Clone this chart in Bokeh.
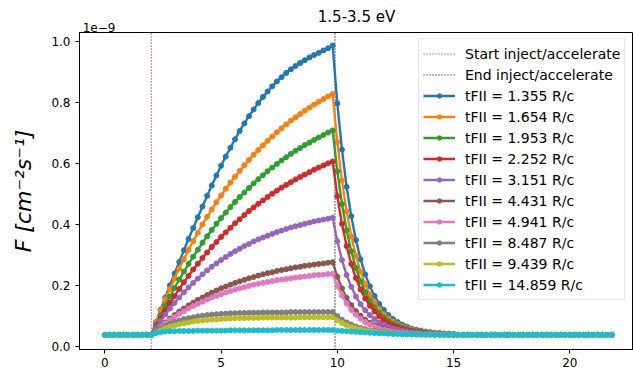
from bokeh.plotting import figure
from bokeh.models import (Range1d, FixedTicker, Legend, LegendItem, ColumnDataSource,
                          LinearAxis, CustomJSTickFormatter)
from bokeh.embed import file_html
from bokeh.resources import INLINE

# Flux in units of 1e-9 cm^-2 s^-1, sampled every 0.2 time units
dt = 0.2
inject_start = 2.0
inject_end = 9.9

# quiet level before injection (t = 0 .. 1.8) and after the decay (t = 15.2 .. 21.8)
pre = [0.037, 0.037, 0.037, 0.037, 0.037, 0.037, 0.037, 0.037, 0.037, 0.037]
post = [0.037, 0.037, 0.037, 0.037, 0.037, 0.037, 0.037, 0.037, 0.037, 0.037,
        0.037, 0.037, 0.037, 0.037, 0.037, 0.037, 0.037, 0.037, 0.037, 0.037,
        0.037, 0.037, 0.037, 0.037, 0.037, 0.037, 0.037, 0.037, 0.037, 0.037,
        0.037, 0.037, 0.037, 0.037]

# rise: t = 2.0 .. 9.8 (40 samples); decay: t = 10.0 .. 15.0 (26 samples)
rise_1355 = [0.037, 0.079, 0.120, 0.160, 0.200, 0.239, 0.277, 0.315, 0.352, 0.388,
             0.424, 0.459, 0.494, 0.528, 0.561, 0.593, 0.623, 0.652, 0.680, 0.707,
             0.732, 0.756, 0.778, 0.799, 0.819, 0.837, 0.854, 0.870, 0.884, 0.898,
             0.910, 0.921, 0.931, 0.940, 0.949, 0.957, 0.964, 0.972, 0.979, 0.988]
decay_1355 = [0.798, 0.646, 0.524, 0.427, 0.349, 0.286, 0.236, 0.197, 0.165, 0.139,
              0.119, 0.102, 0.089, 0.079, 0.070, 0.064, 0.058, 0.054, 0.051, 0.048,
              0.046, 0.044, 0.043, 0.041, 0.041, 0.040]

rise_1654 = [0.037, 0.077, 0.116, 0.153, 0.188, 0.222, 0.255, 0.286, 0.317, 0.345,
             0.373, 0.400, 0.425, 0.449, 0.473, 0.495, 0.517, 0.538, 0.557, 0.576,
             0.595, 0.612, 0.629, 0.645, 0.660, 0.675, 0.689, 0.703, 0.716, 0.729,
             0.741, 0.752, 0.763, 0.774, 0.784, 0.794, 0.803, 0.812, 0.821, 0.829]
decay_1654 = [0.671, 0.544, 0.443, 0.361, 0.297, 0.245, 0.203, 0.170, 0.143, 0.122,
              0.105, 0.091, 0.081, 0.072, 0.065, 0.059, 0.055, 0.051, 0.048, 0.046,
              0.044, 0.043, 0.042, 0.041, 0.040, 0.039]

rise_1953 = [0.037, 0.070, 0.102, 0.133, 0.163, 0.191, 0.219, 0.245, 0.270, 0.294,
             0.317, 0.340, 0.361, 0.382, 0.402, 0.421, 0.439, 0.457, 0.474, 0.490,
             0.505, 0.520, 0.535, 0.549, 0.562, 0.575, 0.587, 0.599, 0.610, 0.621,
             0.632, 0.642, 0.651, 0.661, 0.669, 0.678, 0.686, 0.694, 0.702, 0.709]
decay_1953 = [0.575, 0.467, 0.381, 0.312, 0.257, 0.213, 0.178, 0.150, 0.127, 0.109,
              0.095, 0.083, 0.074, 0.067, 0.061, 0.056, 0.052, 0.049, 0.047, 0.045,
              0.043, 0.042, 0.041, 0.040, 0.040, 0.039]

rise_2252 = [0.037, 0.065, 0.091, 0.117, 0.142, 0.165, 0.188, 0.210, 0.231, 0.252,
             0.271, 0.290, 0.308, 0.326, 0.342, 0.359, 0.374, 0.389, 0.404, 0.417,
             0.431, 0.444, 0.456, 0.468, 0.479, 0.490, 0.501, 0.511, 0.521, 0.530,
             0.539, 0.548, 0.556, 0.564, 0.572, 0.580, 0.587, 0.594, 0.601, 0.607]
decay_2252 = [0.493, 0.402, 0.329, 0.270, 0.224, 0.186, 0.157, 0.133, 0.114, 0.098,
              0.086, 0.076, 0.068, 0.062, 0.057, 0.053, 0.050, 0.047, 0.045, 0.044,
              0.042, 0.041, 0.040, 0.040, 0.039, 0.039]

rise_3151 = [0.037, 0.060, 0.083, 0.104, 0.124, 0.142, 0.160, 0.177, 0.193, 0.208,
             0.222, 0.236, 0.249, 0.261, 0.272, 0.283, 0.293, 0.303, 0.312, 0.320,
             0.329, 0.336, 0.344, 0.351, 0.357, 0.363, 0.369, 0.375, 0.380, 0.385,
             0.390, 0.394, 0.398, 0.402, 0.406, 0.410, 0.413, 0.416, 0.419, 0.422]
decay_3151 = [0.345, 0.283, 0.234, 0.195, 0.163, 0.138, 0.118, 0.102, 0.089, 0.078,
              0.070, 0.063, 0.058, 0.054, 0.051, 0.048, 0.046, 0.044, 0.043, 0.041,
              0.041, 0.040, 0.040, 0.039, 0.038, 0.038]

rise_4431 = [0.037, 0.052, 0.065, 0.078, 0.091, 0.102, 0.114, 0.124, 0.134, 0.143,
             0.152, 0.160, 0.168, 0.176, 0.183, 0.190, 0.196, 0.202, 0.208, 0.213,
             0.218, 0.223, 0.227, 0.232, 0.236, 0.240, 0.243, 0.247, 0.250, 0.253,
             0.256, 0.259, 0.261, 0.264, 0.266, 0.268, 0.270, 0.272, 0.274, 0.276]
decay_4431 = [0.228, 0.190, 0.159, 0.135, 0.115, 0.100, 0.087, 0.077, 0.069, 0.063,
              0.058, 0.053, 0.050, 0.048, 0.045, 0.044, 0.042, 0.041, 0.040, 0.040,
              0.039, 0.039, 0.038, 0.038, 0.038, 0.038]

rise_4941 = [0.037, 0.050, 0.063, 0.075, 0.086, 0.096, 0.106, 0.115, 0.124, 0.132,
             0.139, 0.146, 0.153, 0.160, 0.165, 0.171, 0.176, 0.181, 0.186, 0.190,
             0.194, 0.198, 0.202, 0.205, 0.208, 0.211, 0.214, 0.217, 0.219, 0.221,
             0.223, 0.226, 0.227, 0.229, 0.231, 0.233, 0.234, 0.235, 0.237, 0.238]
decay_4941 = [0.198, 0.166, 0.140, 0.119, 0.103, 0.090, 0.079, 0.071, 0.064, 0.059,
              0.054, 0.051, 0.048, 0.046, 0.044, 0.043, 0.042, 0.041, 0.040, 0.039,
              0.039, 0.039, 0.038, 0.038, 0.038, 0.038]

rise_8487 = [0.037, 0.049, 0.058, 0.067, 0.074, 0.079, 0.084, 0.089, 0.092, 0.095,
             0.098, 0.100, 0.102, 0.104, 0.105, 0.106, 0.107, 0.108, 0.108, 0.109,
             0.109, 0.110, 0.110, 0.110, 0.111, 0.111, 0.111, 0.111, 0.111, 0.111,
             0.112, 0.112, 0.112, 0.112, 0.112, 0.112, 0.112, 0.112, 0.112, 0.112]
decay_8487 = [0.099, 0.087, 0.078, 0.071, 0.065, 0.060, 0.056, 0.052, 0.050, 0.047,
              0.046, 0.044, 0.043, 0.042, 0.041, 0.040, 0.040, 0.039, 0.039, 0.038,
              0.038, 0.038, 0.038, 0.037, 0.037, 0.037]

rise_9439 = [0.037, 0.045, 0.052, 0.059, 0.064, 0.068, 0.072, 0.075, 0.078, 0.081,
             0.083, 0.084, 0.086, 0.087, 0.088, 0.089, 0.090, 0.091, 0.092, 0.092,
             0.092, 0.093, 0.093, 0.093, 0.094, 0.094, 0.094, 0.094, 0.094, 0.094,
             0.094, 0.094, 0.095, 0.095, 0.095, 0.095, 0.095, 0.095, 0.095, 0.095]
decay_9439 = [0.085, 0.076, 0.069, 0.063, 0.059, 0.055, 0.051, 0.049, 0.047, 0.045,
              0.044, 0.042, 0.041, 0.041, 0.040, 0.039, 0.039, 0.039, 0.038, 0.038,
              0.038, 0.038, 0.037, 0.037, 0.037, 0.037]

rise_14859 = [0.037, 0.043, 0.046, 0.048, 0.049, 0.049, 0.050, 0.050, 0.050, 0.050,
              0.051, 0.051, 0.051, 0.051, 0.051, 0.051, 0.051, 0.052, 0.052, 0.052,
              0.052, 0.052, 0.052, 0.052, 0.052, 0.052, 0.052, 0.053, 0.053, 0.053,
              0.053, 0.053, 0.053, 0.053, 0.053, 0.053, 0.053, 0.053, 0.053, 0.053]
decay_14859 = [0.051, 0.050, 0.049, 0.048, 0.047, 0.046, 0.045, 0.044, 0.043, 0.042,
               0.042, 0.041, 0.040, 0.040, 0.039, 0.039, 0.039, 0.038, 0.038, 0.038,
               0.038, 0.037, 0.037, 0.037, 0.037, 0.037]

labels = ["tFII = 1.355 R/c", "tFII = 1.654 R/c", "tFII = 1.953 R/c", "tFII = 2.252 R/c",
          "tFII = 3.151 R/c", "tFII = 4.431 R/c", "tFII = 4.941 R/c", "tFII = 8.487 R/c",
          "tFII = 9.439 R/c", "tFII = 14.859 R/c"]
rises = [rise_1355, rise_1654, rise_1953, rise_2252, rise_3151,
         rise_4431, rise_4941, rise_8487, rise_9439, rise_14859]
decays = [decay_1355, decay_1654, decay_1953, decay_2252, decay_3151,
          decay_4431, decay_4941, decay_8487, decay_9439, decay_14859]
colors = ["#1f77b4", "#ff7f0e", "#2ca02c", "#d62728", "#9467bd",
          "#8c564b", "#e377c2", "#7f7f7f", "#bcbd22", "#17becf"]

x_ticks = [0, 5, 10, 15, 20]
y_ticks = [0.0, 0.2, 0.4, 0.6, 0.8, 1.0]
y_tick_labels = ["0.0", "0.2", "0.4", "0.6", "0.8", "1.0"]

x_lo, x_hi = -1.09, 22.74
y_lo, y_hi = -0.011, 1.031
multiplier_pos = -0.25

FONT = "DejaVu Sans"

p = figure(width=633, height=371, output_backend="svg", toolbar_location=None,
           x_range=Range1d(x_lo, x_hi), y_range=Range1d(y_lo, y_hi),
           min_border_left=79, min_border_right=0, min_border_top=32, min_border_bottom=22)

p.xgrid.visible = False
p.ygrid.visible = False
p.outline_line_color = "#000000"
p.outline_line_width = 1
p.background_fill_color = "white"
p.border_fill_color = "white"

for ax in (p.xaxis[0], p.yaxis[0]):
    ax.axis_line_color = "#000000"
    ax.major_tick_line_color = "#000000"
    ax.major_tick_out = 4
    ax.major_tick_in = 0
    ax.minor_tick_line_color = None
    ax.major_label_text_font = FONT
    ax.major_label_text_font_size = "12px"
    ax.major_label_text_color = "#000000"

p.xaxis.ticker = FixedTicker(ticks=x_ticks)
p.xaxis.major_label_standoff = 4
p.yaxis.ticker = FixedTicker(ticks=y_ticks)
p.yaxis.major_label_overrides = {v: s for v, s in zip(y_ticks, y_tick_labels)}
p.yaxis.major_label_standoff = 5
p.yaxis.axis_label = "F [cm\u207b\u00b2s\u207b\u00b9]"
p.yaxis.axis_label_text_font = FONT
p.yaxis.axis_label_text_font_size = "22px"
p.yaxis.axis_label_text_font_style = "italic"
p.yaxis.axis_label_text_color = "#000000"
p.yaxis.axis_label_standoff = 12

# top axis carries the 1e-9 multiplier (left) and the panel title (centred)
top = LinearAxis(ticker=FixedTicker(ticks=[multiplier_pos]),
                 formatter=CustomJSTickFormatter(code="return '1e\u22129';"),
                 axis_line_color=None, major_tick_line_color=None, minor_tick_line_color=None,
                 major_tick_out=0, major_tick_in=0, major_label_standoff=1,
                 major_label_text_font=FONT, major_label_text_font_size="12px",
                 major_label_text_color="#000000",
                 axis_label="1.5-3.5 eV", axis_label_text_font=FONT,
                 axis_label_text_font_size="15px", axis_label_text_font_style="normal",
                 axis_label_text_color="#000000", axis_label_standoff=-6)
p.add_layout(top, "above")

# injection window markers
start_r = p.segment(x0=[inject_start], y0=[y_lo], x1=[inject_start], y1=[y_hi],
                    line_color="#bf00bf", line_width=1.2, line_dash="1 2")
end_r = p.segment(x0=[inject_end], y0=[y_lo], x1=[inject_end], y1=[y_hi],
                  line_color="#000000", line_width=1.2, line_dash="1 2")

items = [LegendItem(label="Start inject/accelerate", renderers=[start_r]),
         LegendItem(label="End inject/accelerate", renderers=[end_r])]

for label, color, rise, decay in zip(labels, colors, rises, decays):
    f = pre + rise + decay + post
    t = [round(i * dt, 1) for i in range(len(f))]
    src = ColumnDataSource(dict(t=t, f=f))
    lr = p.line("t", "f", source=src, line_color=color, line_width=2.4)
    sr = p.scatter("t", "f", source=src, size=5, fill_color=color, line_color=color)
    items.append(LegendItem(label=label, renderers=[lr, sr]))

legend = Legend(items=items, location=(339, 49))
legend.label_text_font = FONT
legend.label_text_font_size = "14px"
legend.label_text_color = "#000000"
legend.glyph_width = 32
legend.glyph_height = 11
legend.label_height = 21
legend.spacing = 0
legend.padding = 4
legend.label_standoff = 10
legend.border_line_color = "#cccccc"
legend.border_line_width = 1
legend.background_fill_color = "white"
legend.background_fill_alpha = 0.8
p.add_layout(legend, "center")

open("out.html", "w").write(file_html(p, INLINE))
